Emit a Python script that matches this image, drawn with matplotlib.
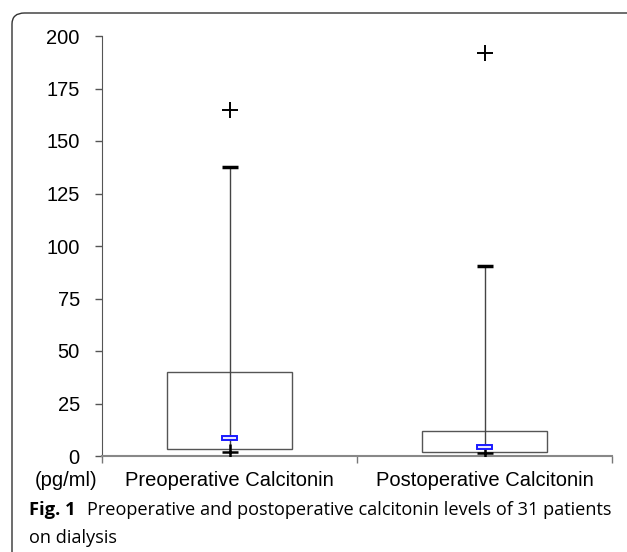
import matplotlib
matplotlib.use('Agg')

import matplotlib.pyplot as plt
from matplotlib.patches import FancyBboxPatch

# data
categories = ['Preoperative Calcitonin', 'Postoperative Calcitonin']
box_low = [3.5, 2.0]
box_high = [40.0, 12.0]
medians = [8.5, 4.3]
whisker_min = [1.8, 1.2]
whisker_max = [137.5, 90.5]
outliers = [165.0, 192.0]
yticks = [0, 25, 50, 75, 100, 125, 150, 175, 200]

W, H = 627, 552
fig = plt.figure(figsize=(W / 100, H / 100), dpi=100)
fig.patch.set_facecolor('white')

# rounded frame around the figure (open to the right/bottom edge)
frame = FancyBboxPatch((12 / W, -0.05), 1.2, 1 - 13 / H + 0.05,
                       boxstyle='round,pad=0,rounding_size=0.02',
                       transform=fig.transFigure, fill=False,
                       ec='#333333', lw=1.0, clip_on=False)
fig.patches.append(frame)

ax = fig.add_axes([102 / W, 1 - 456 / H, (612 - 102) / W, (456 - 36) / H])
xs = list(range(len(categories)))

# boxes
ax.bar(xs, [h - l for h, l in zip(box_high, box_low)], bottom=box_low,
       width=0.49, facecolor='white', edgecolor='#555555', linewidth=1.0, zorder=2)
# whisker line through the box
ax.vlines(xs, whisker_min, whisker_max, colors='#444444', linewidth=1.0, zorder=3)
ax.plot(xs, whisker_max, linestyle='none', marker='_', markersize=11,
        markeredgewidth=2.5, color='black', zorder=4)
ax.plot(xs, whisker_min, linestyle='none', marker='+', markersize=11,
        markeredgewidth=1.8, color='black', zorder=4)
# outliers
ax.plot(xs, outliers, linestyle='none', marker='+', markersize=11,
        markeredgewidth=1.4, color='black', zorder=4)
# medians: small blue bars
ax.bar(xs, [1.8] * len(xs), bottom=[m - 0.9 for m in medians], width=0.055,
       facecolor='#e8e8ff', edgecolor='#1a1aff', linewidth=1.4, zorder=5)

ax.set_xlim(-0.5, len(categories) - 0.5)
ax.set_ylim(0, 200)
ax.set_yticks(yticks)
ax.set_xticks([-0.5, 0.5, 1.5])
ax.set_xticklabels([])
ax.tick_params(axis='y', direction='out', length=5, width=1, color='#555555',
               labelsize=14.5, pad=11)
ax.tick_params(axis='x', direction='out', length=5, width=1, color='#777777')
for lab in ax.get_yticklabels():
    lab.set_fontfamily('Liberation Sans')

for s in ['top', 'right']:
    ax.spines[s].set_visible(False)
ax.spines['left'].set_color('#555555')
ax.spines['bottom'].set_color('#888888')
ax.spines['bottom'].set_linewidth(1.5)

# category labels under the axis
for x, c in zip(xs, categories):
    ax.text(x, -11.5, c, ha='center', va='center', fontsize=14.5,
            family='Liberation Sans', transform=ax.transData, clip_on=False)
fig.text(35 / W, 1 - 480 / H, '(pg/ml)', ha='left', va='center', fontsize=14.5,
         family='Liberation Sans')

# caption
fig.text(29 / W, 1 - 510 / H, 'Fig. 1', ha='left', va='center', fontsize=13.2,
         family='Open Sans', fontweight='bold')
fig.text(87 / W, 1 - 510 / H,
         'Preoperative and postoperative calcitonin levels of 31 patients',
         ha='left', va='center', fontsize=13.1, family='Open Sans')
fig.text(29 / W, 1 - 538 / H, 'on dialysis', ha='left', va='center',
         fontsize=13.1, family='Open Sans')

fig.savefig('out.png', dpi=100, facecolor='white')
